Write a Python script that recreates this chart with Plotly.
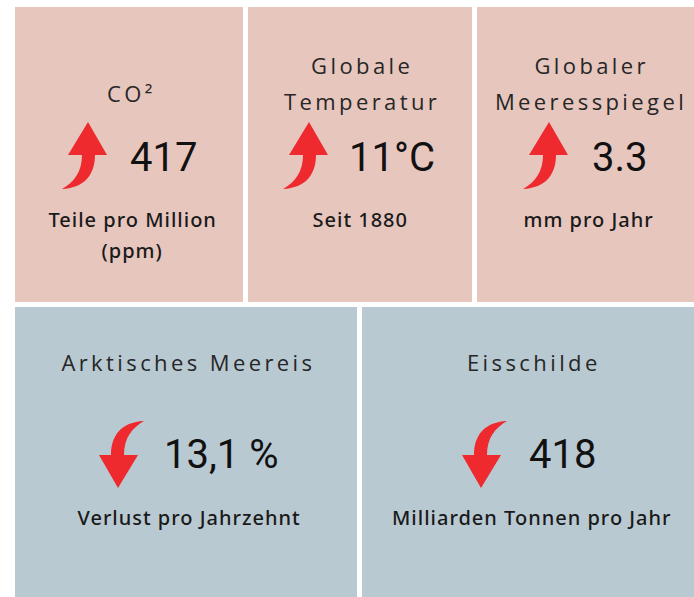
import plotly.graph_objects as go

# ---- data ----
indicators = ["CO²", "Globale<br>Temperatur", "Globaler<br>Meeresspiegel",
              "Arktisches Meereis", "Eisschilde"]
values = ["417", "11°C", "3.3", "13,1 %", "418"]
units = ["Teile pro Million<br>(ppm)", "Seit 1880", "mm pro Jahr",
         "Verlust pro Jahrzehnt", "Milliarden Tonnen pro Jahr"]
trends = ["up", "up", "up", "down", "down"]

# ---- layout (pixel positions of the tiles) ----
tile_x0 = [15, 248, 477, 15, 362]
tile_x1 = [243, 472, 701, 357, 702]
tile_y0 = [7, 7, 7, 307, 307]
tile_y1 = [302, 302, 302, 600, 600]
tile_col = ["#E7C6BE", "#E7C6BE", "#E7C6BE", "#B9C9D2", "#B9C9D2"]
title_cx = [131, 362, 591, 188, 534]
title_y = [[93], [65, 101], [65, 101], [362], [362]]
arrow_x = [88, 309, 549, 118, 481]
arrow_y = [122, 122, 122, 488, 488]
value_x = [128, 347, 590, 162, 527]
value_y = [157, 157, 157, 454, 454]
unit_cx = [132, 360, 589, 189, 532]
unit_y = [[219, 250], [219], [219], [517], [517]]

W, H = 694, 597
RED = "#EE2A2E"

fig = go.Figure()
shapes, annotations = [], []


def arrow_path(tx, ty, up):
    s = 1 if up else -1

    def p(dx, dy):
        return f"{tx + s * dx:.1f},{ty + s * dy:.1f}"
    return (f"M {p(0,0)} L {p(19,33)} L {p(7,33)} "
            f"C {p(7,52)} {p(-3,66)} {p(-26,67)} "
            f"C {p(-14,60)} {p(-6,50)} {p(-6,33)} "
            f"L {p(-20,33)} Z")


for i in range(len(indicators)):
    shapes.append(dict(type="rect", xref="x", yref="y",
                       x0=tile_x0[i], x1=tile_x1[i], y0=tile_y0[i], y1=tile_y1[i],
                       fillcolor=tile_col[i], line=dict(width=0), layer="below"))
    shapes.append(dict(type="path", xref="x", yref="y",
                       path=arrow_path(arrow_x[i], arrow_y[i], trends[i] == "up"),
                       fillcolor=RED, line=dict(width=0)))
    for line, yy in zip(indicators[i].split("<br>"), title_y[i]):
        annotations.append(dict(x=title_cx[i], y=yy, xref="x", yref="y",
                                text=line, showarrow=False, xanchor="center", yanchor="middle",
                                font=dict(family="Open Sans", size=22, color="#262626", weight=400)))
    annotations.append(dict(x=value_x[i], y=value_y[i], xref="x", yref="y",
                            text=values[i], showarrow=False, xanchor="left", yanchor="middle",
                            font=dict(family="Roboto", size=40, color="#111111")))
    for line, yy in zip(units[i].split("<br>"), unit_y[i]):
        annotations.append(dict(x=unit_cx[i], y=yy, xref="x", yref="y",
                                text=line, showarrow=False, xanchor="center", yanchor="middle",
                                font=dict(family="Noto Sans", size=20, color="#1a1a1a", weight=500)))

fig.update_layout(
    width=W, height=H, margin=dict(l=0, r=0, t=0, b=0),
    paper_bgcolor="white", plot_bgcolor="white",
    xaxis=dict(range=[0, W], visible=False, fixedrange=True),
    yaxis=dict(range=[H, 0], visible=False, fixedrange=True),
    shapes=shapes, annotations=annotations, showlegend=False,
)

post = """
document.body.style.margin = '0';
var gd = document.getElementById('{plot_id}');
gd.querySelectorAll('text.annotation-text').forEach(function (t) {
  var fs = parseFloat(t.style.fontSize);
  if (fs === 22) { t.style.letterSpacing = '3.4px'; }
  else if (fs === 20) { t.style.letterSpacing = '1px'; }
});
"""

fig.write_html("out.html", config={"displayModeBar": False}, post_script=post)
